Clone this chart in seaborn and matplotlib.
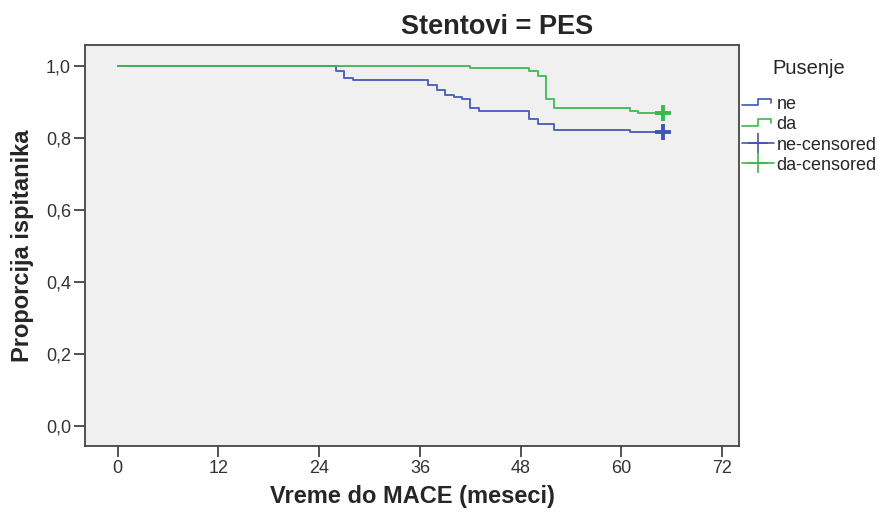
import numpy as np
import pandas as pd
import matplotlib
matplotlib.use("Agg")
import matplotlib.pyplot as plt
import seaborn as sns
from matplotlib.lines import Line2D
from matplotlib.legend_handler import HandlerBase

# ---- data ----
groups = ["ne", "da"]
ne_time = [0, 26, 27, 28, 37, 38, 39, 40, 41, 42, 43, 49, 50, 52, 61, 65]
ne_surv = [1.0, 0.986, 0.966, 0.962, 0.946, 0.934, 0.920, 0.914, 0.909, 0.883,
           0.874, 0.853, 0.839, 0.821, 0.815, 0.815]
da_time = [0, 42, 49, 50, 51, 52, 61, 62, 65]
da_surv = [1.0, 0.994, 0.986, 0.971, 0.907, 0.884, 0.876, 0.869, 0.869]
cens_time = [65, 65]
cens_surv = [0.815, 0.869]
x_ticks = [0, 12, 24, 36, 48, 60, 72]
y_ticks = [0.0, 0.2, 0.4, 0.6, 0.8, 1.0]
y_tick_labels = ["0,0", "0,2", "0,4", "0,6", "0,8", "1,0"]

colors = {"ne": "#3f57b4", "da": "#3cb84a"}

df = pd.concat([
    pd.DataFrame({"t": ne_time, "s": ne_surv, "Pusenje": "ne"}),
    pd.DataFrame({"t": da_time, "s": da_surv, "Pusenje": "da"}),
])

sns.set_theme(style="white")
plt.rcParams["font.family"] = ["Liberation Sans", "DejaVu Sans"]

fig = plt.figure(figsize=(8.79, 5.17), dpi=100)
ax = fig.add_axes([85/879, 1-446/517, (739-85)/879, (446-45)/517])
ax.set_facecolor("#f0f0f0")

sns.lineplot(data=df, x="t", y="s", hue="Pusenje", palette=colors,
             estimator=None, sort=False, drawstyle="steps-post",
             linewidth=1.4, ax=ax, legend=False, alpha=0.9)
for g, t, s in zip(groups, cens_time, cens_surv):
    ax.plot([t], [s], marker="+", markersize=11, mew=2.8, color=colors[g],
            linestyle="none")

ax.set_xlim(-3.9, 74.0)
ax.set_ylim(-0.056, 1.058)
ax.set_xticks(x_ticks)
ax.set_xticklabels([str(v) for v in x_ticks])
ax.set_yticks(y_ticks)
ax.set_yticklabels(y_tick_labels)
ax.tick_params(axis="both", direction="out", length=8, width=1.3,
               color="#444444", labelsize=13, labelcolor="#333333", pad=2,
               bottom=True, left=True)
for sp in ax.spines.values():
    sp.set_color("#444444")
    sp.set_linewidth(1.3)

ax.set_xlabel("Vreme do MACE (meseci)", fontsize=17, fontweight="bold")
ax.set_ylabel("Proporcija ispitanika", fontsize=17, fontweight="bold")
ax.xaxis.label.set_va("center")
ax.yaxis.label.set_va("center")
ax.xaxis.set_label_coords(0.5, (446-497)/401)
ax.yaxis.set_label_coords((22-85)/654, 0.5)

fig.text(497/879, 1-27/517, "Stentovi = PES", fontsize=19.5,
         fontweight="bold", ha="center", va="center")


class StepHandler(HandlerBase):
    def __init__(self, color):
        super().__init__()
        self.color = color

    def create_artists(self, legend, orig_handle, xdescent, ydescent, width,
                       height, fontsize, trans):
        x0 = -xdescent
        w = width
        yl = -ydescent + height * 0.3
        yh = -ydescent + height * 0.8
        xs = [x0, x0 + w * 0.5, x0 + w * 0.5, x0 + w * 0.93, x0 + w * 0.93]
        ys = [yl, yl, yh, yh, yh - height * 0.3]
        ln = Line2D(xs, ys, color=self.color, lw=1.2, transform=trans)
        return [ln]


h_ne = Line2D([], [], color=colors["ne"])
h_da = Line2D([], [], color=colors["da"])
h_nec = Line2D([], [], color=colors["ne"], lw=1.2, marker="+",
               markersize=15, mew=1.2)
h_dac = Line2D([], [], color=colors["da"], lw=1.2, marker="+",
               markersize=15, mew=1.2)
leg = fig.legend([h_ne, h_da, h_nec, h_dac],
                 ["ne", "da", "ne-censored", "da-censored"],
                 handler_map={h_ne: StepHandler(colors["ne"]),
                              h_da: StepHandler(colors["da"])},
                 loc="upper left", bbox_to_anchor=(742/879, 1-59/517),
                 frameon=False, fontsize=13, title="Pusenje",
                 title_fontsize=14.5, handlelength=1.75, handletextpad=0.15,
                 labelspacing=0.18, borderaxespad=0, borderpad=0)
leg._legend_box.align = "center"
leg._legend_box.sep = 13

fig.savefig("out.png", dpi=100, facecolor="white")
